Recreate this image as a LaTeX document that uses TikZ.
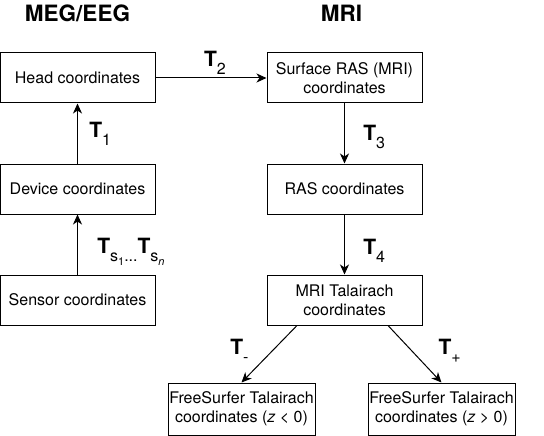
\documentclass[tikz,border=0pt]{standalone}
\usepackage{fontspec}
\setmainfont{TeX Gyre Heros}
\usetikzlibrary{arrows.meta}

\newcommand{\Tbold}{{\fontsize{21}{21}\selectfont\bfseries T}}
\newcommand{\lowsub}[1]{\raisebox{-8pt}{\fontsize{16}{16}\selectfont #1}}
\newcommand{\tinysub}[1]{\raisebox{-4pt}{\fontsize{11}{11}\selectfont #1}}

\begin{document}
\begin{tikzpicture}[x=1pt, y=-1pt,
        coordbox/.style={rectangle, draw, line width=1pt, minimum width=155pt, minimum height=50pt, align=center, inner sep=1pt, font=\fontsize{16}{19}\selectfont},
        smallbox/.style={coordbox, minimum width=147pt, minimum height=52pt},
        title/.style={anchor=base, font=\fontsize{22.5}{22.5}\selectfont\bfseries},
        trans/.style={-{Stealth[length=10pt, width=9pt, inset=3pt]}, line width=1pt}]
        \useasboundingbox (0,0) rectangle (544,436);

        \node (megtitle) at (77.5,22)[title] {MEG/EEG};
        \node (mrititle) at (341.5,22)[title] {MRI};

        \node (head) at (77.5,78)[coordbox] {Head coordinates};
        \node (device) at (77.5,189)[coordbox] {Device coordinates};
        \node (sensor) at (77.5,300)[coordbox] {Sensor coordinates};

        \node (surfras) at (344.5,78)[coordbox] {Surface RAS (MRI)\\coordinates};
        \node (ras) at (344.5,189)[coordbox] {RAS coordinates};
        \node (mrital) at (344.5,300)[coordbox] {MRI Talairach\\coordinates};

        \node (fsneg) at (241.5,409)[smallbox] {FreeSurfer Talairach\\coordinates (\textit{z} < 0)};
        \node (fspos) at (441.5,409)[smallbox] {FreeSurfer Talairach\\coordinates (\textit{z} > 0)};

        \draw[trans] (head) -- (surfras) node[pos=0.5, above, xshift=4pt]{\Tbold\lowsub{2}};

        \draw[trans] (device) -- (head) node[pos=0.5, right=8pt]{\Tbold\lowsub{1}};

        \draw[trans] (sensor) -- (device) node[pos=0.5, right=16pt, yshift=-7pt]{\Tbold\lowsub{s\tinysub{1}...}\Tbold\lowsub{s\tinysub{\textit{n}}}};

        \draw[trans] (surfras) -- (ras) node[pos=0.5, right=15pt, yshift=-3pt]{\Tbold\lowsub{3}};

        \draw[trans] (ras) -- (mrital) node[pos=0.5, right=15pt, yshift=-6pt]{\Tbold\lowsub{4}};

        \draw[trans] ([xshift=-47.5pt]mrital.south) -- (fsneg.north) node[pos=0.5, left=17pt, yshift=3pt]{\Tbold\lowsub{-}};

        \draw[trans] ([xshift=43.5pt]mrital.south) -- (fspos.north) node[pos=0.5, right=20pt, yshift=3pt]{\Tbold\lowsub{+}};

    \end{tikzpicture}
\end{document}
